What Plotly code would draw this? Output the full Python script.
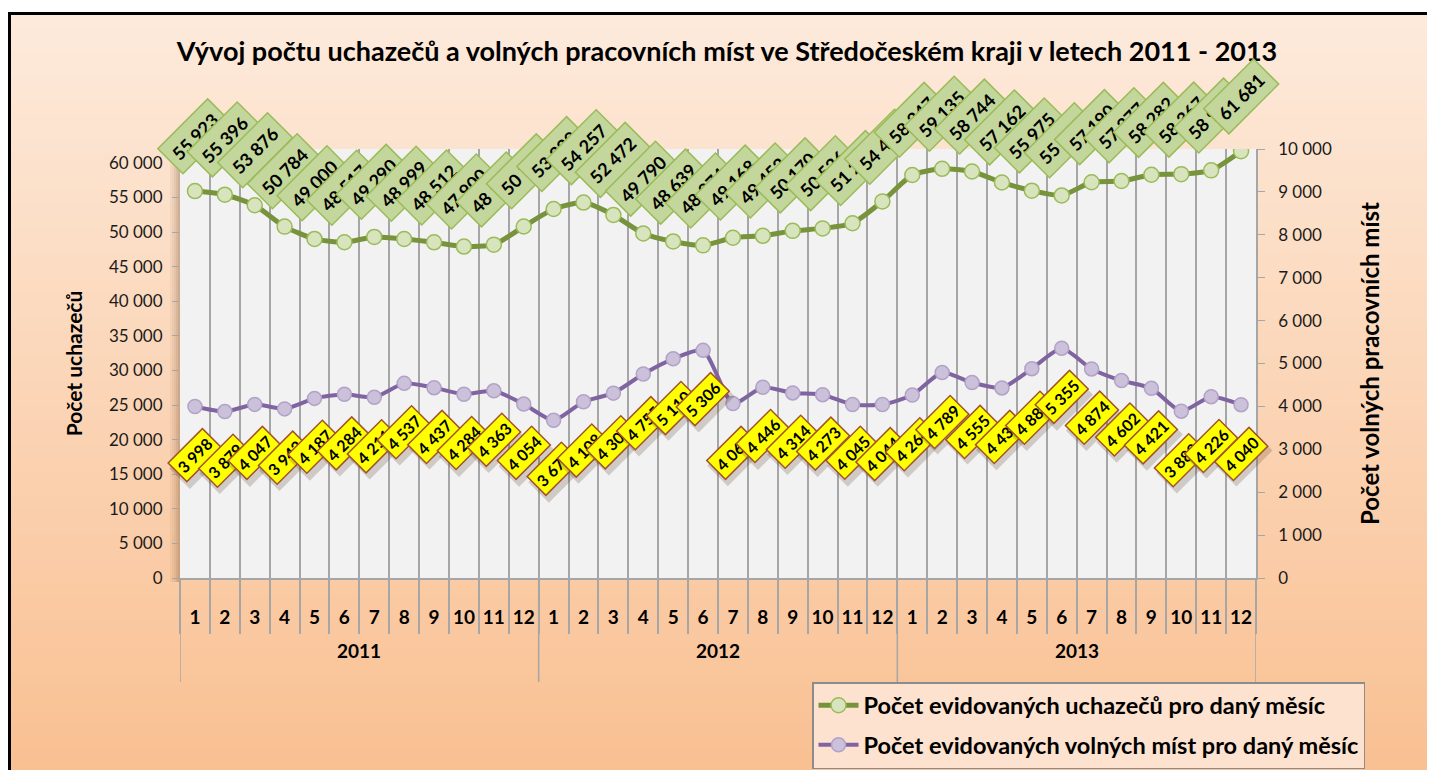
import plotly.graph_objects as go

# ---------------- data ----------------
years = ["2011", "2012", "2013"]
months = [str(m) for m in range(1, 13)]
uchazeci = [55923, 55396, 53876, 50784, 49000, 48517, 49290, 48999, 48512, 47900, 48180, 50795,
            53329, 54257, 52472, 49790, 48639, 48074, 49168, 49452, 50170, 50526, 51270, 54430,
            58247, 59135, 58744, 57162, 55975, 55290, 57190, 57377, 58282, 58367, 58912, 61681]
volna_mista = [3998, 3879, 4047, 3942, 4187, 4284, 4211, 4537, 4437, 4284, 4363, 4054,
               3675, 4108, 4309, 4755, 5110, 5306, 4065, 4446, 4314, 4273, 4045, 4044,
               4264, 4789, 4555, 4430, 4880, 5355, 4874, 4602, 4421, 3888, 4226, 4040]
left_ticks = list(range(0, 60001, 5000))
right_ticks = list(range(0, 10001, 1000))

title = "Vývoj počtu uchazečů a volných pracovních míst ve Středočeském kraji v letech 2011 - 2013"
name_u = "Počet evidovaných uchazečů pro daný měsíc"
name_v = "Počet evidovaných volných míst pro daný měsíc"

# ---------------- geometry (reference pixel coords; page has 8px body margin) ----------------
OFF = 8
W, H = 1435 - OFF, 770 - OFF
PL, PR, PT, PB = 180, 1256, 149, 578          # plot area in reference coords
L, T = PL - OFF, PT - OFF
R, B = W - (PR - OFF), H - (PB - OFF)
FONT = "Lato"


def pxx(px):
    return (px - PL) / (PR - PL)


def pxy(py):
    return (PB - py) / (PB - PT)


n = len(uchazeci)
idx = list(range(n))
month_text = months * len(years)
bounds = [k - 0.5 for k in range(n + 1)]


def fmt(v):
    return f"{v:,}".replace(",", " ")


fig = go.Figure()

fig.add_trace(go.Scatter(
    x=idx, y=uchazeci, name=name_u, mode="lines+markers", yaxis="y",
    line=dict(color="#77933c", width=5, shape="spline", smoothing=0.6),
    marker=dict(size=15, color="#d7e4bd", line=dict(color="#9bbb59", width=1.5)),
    legendgroup="a", hoverinfo="skip"))
fig.add_trace(go.Scatter(
    x=idx, y=volna_mista, name=name_v, mode="lines+markers", yaxis="y2",
    line=dict(color="#8064a2", width=4, shape="spline", smoothing=0.6),
    marker=dict(size=14, color="#ccc1da", line=dict(color="#b3a2c7", width=1.5)),
    legendgroup="b", hoverinfo="skip"))

shapes = []
# background gradient
N = 60
top_c = (253, 234, 219)
bot_c = (249, 192, 146)
y_start, y_end = 13, 775
for k in range(N):
    t = k / (N - 1)
    c = tuple(round(top_c[j] + (bot_c[j] - top_c[j]) * t) for j in range(3))
    y0 = y_start + (y_end - y_start) * k / N
    y1 = y_start + (y_end - y_start) * (k + 1) / N + 1
    shapes.append(dict(type="rect", xref="paper", yref="paper", layer="below",
                       x0=pxx(9), x1=pxx(1445), y0=pxy(y0), y1=pxy(y1),
                       line=dict(width=0), fillcolor=f"rgb{c}"))
# outer black frame (left and top edges visible)
shapes.append(dict(type="line", xref="paper", yref="paper", layer="below",
                   x0=pxx(9.5), x1=pxx(9.5), y0=pxy(780), y1=pxy(13),
                   line=dict(color="black", width=3)))
shapes.append(dict(type="line", xref="paper", yref="paper", layer="below",
                   x0=pxx(8), x1=pxx(1445), y0=pxy(13.5), y1=pxy(13.5),
                   line=dict(color="black", width=3)))
# plot area shadow (left)
for k, a in enumerate([0.06, 0.10, 0.16, 0.24, 0.32]):
    shapes.append(dict(type="rect", xref="paper", yref="paper", layer="below",
                       x0=pxx(170 + 2 * k), x1=pxx(172 + 2 * k), y0=pxy(582), y1=pxy(153),
                       line=dict(width=0), fillcolor=f"rgba(110,70,40,{a})"))
# plot area background
shapes.append(dict(type="rect", xref="paper", yref="paper", layer="below",
                   x0=0, x1=1, y0=0, y1=1, line=dict(width=0), fillcolor="#f2f2f2"))
# year dividers
for b in bounds[::12]:
    shapes.append(dict(type="line", xref="x", yref="paper", layer="above",
                       x0=b, x1=b, y0=0, y1=pxy(682),
                       line=dict(color="#a6a6a6", width=1.5)))

annotations = []
# year labels
for yi, yr in enumerate(years):
    annotations.append(dict(x=yi * 12 + 5.5, y=pxy(664), xref="x", yref="paper",
                            text=yr, showarrow=False,
                            font=dict(family=FONT, size=19, color="black", weight="bold")))
# green data labels
for i, v in enumerate(uchazeci):
    annotations.append(dict(x=i, y=v, xref="x", yref="y", text=fmt(v), showarrow=False,
                            textangle=-45, yshift=55,
                            font=dict(family=FONT, size=18, color="black", weight="bold"),
                            bgcolor="#c3d69b", bordercolor="#9bbb59", borderwidth=1.5,
                            borderpad=6))
# yellow data labels (with shadow)
for i, v in enumerate(volna_mista):
    annotations.append(dict(x=i, y=v, xref="x", yref="y2", text=fmt(v), showarrow=False,
                            textangle=-45, yshift=-54, xshift=3,
                            font=dict(family=FONT, size=16, color="rgba(0,0,0,0)", weight="bold"),
                            bgcolor="rgba(80,60,40,0.22)", borderwidth=0, borderpad=5))
    annotations.append(dict(x=i, y=v, xref="x", yref="y2", text=fmt(v), showarrow=False,
                            textangle=-45, yshift=-49,
                            font=dict(family=FONT, size=16, color="black", weight="bold"),
                            bgcolor="#ffff00", bordercolor="#a0522d", borderwidth=1.5,
                            borderpad=3))

fig.update_layout(
    width=W, height=H,
    margin=dict(l=L, r=R, t=T, b=B, autoexpand=False),
    paper_bgcolor="white",
    plot_bgcolor="rgba(0,0,0,0)",
    separators=", ",
    font=dict(family=FONT, color="#1a1a1a"),
    title=dict(text=title, x=(727 - OFF) / W, xref="container", y=1 - (52 - OFF) / H,
               yref="container", xanchor="center", yanchor="middle",
               font=dict(family=FONT, size=27, color="black", weight="bold")),
    xaxis=dict(range=[-0.5, n - 0.5], tickmode="array", tickvals=idx, ticktext=month_text,
               ticks="", showgrid=False, zeroline=False, ticklabelstandoff=21,
               showline=True, linecolor="#a6a6a6", linewidth=1.5,
               tickfont=dict(family=FONT, size=19, color="black", weight="bold"),
               minor=dict(tickmode="array", tickvals=bounds, ticks="outside", ticklen=54,
                          tickcolor="#a6a6a6", tickwidth=1.5, showgrid=True,
                          gridcolor="#a6a6a6", gridwidth=1.5)),
    yaxis=dict(range=[0, 62000], tickmode="array", tickvals=left_ticks, tickformat=",",
               ticks="outside", ticklen=7, tickcolor="#a6a6a6", showgrid=False, zeroline=False,
               showline=False, ticklabelstandoff=6,
               tickfont=dict(family=FONT, size=17, color="#1a1a1a"),
               title=dict(text="Počet uchazečů", standoff=20,
                          font=dict(family=FONT, size=21, color="black", weight="bold"))),
    yaxis2=dict(range=[0, 10000], tickmode="array", tickvals=right_ticks, tickformat=",",
                overlaying="y", side="right", anchor="x",
                ticks="outside", ticklen=7, tickcolor="#a6a6a6", showgrid=False, zeroline=False,
                showline=True, linecolor="#a6a6a6", linewidth=1.5, ticklabelstandoff=10,
                tickfont=dict(family=FONT, size=17, color="#1a1a1a"),
                title=dict(text="Počet volných pracovních míst", standoff=31,
                           font=dict(family=FONT, size=24, color="black", weight="bold"))),
    legend=dict(x=pxx(812), y=pxy(682), xanchor="left", yanchor="top",
                bgcolor="#fde3cf", bordercolor="#8c8c8c", borderwidth=1.5,
                font=dict(family=FONT, size=23.5, color="black", weight="bold"),
                tracegroupgap=6, itemwidth=40),
    shapes=shapes,
    annotations=annotations,
    hovermode=False,
)

fig.write_html("out.html",
               post_script="document.documentElement.style.overflow='hidden';"
                           "document.body.style.overflow='hidden';")
